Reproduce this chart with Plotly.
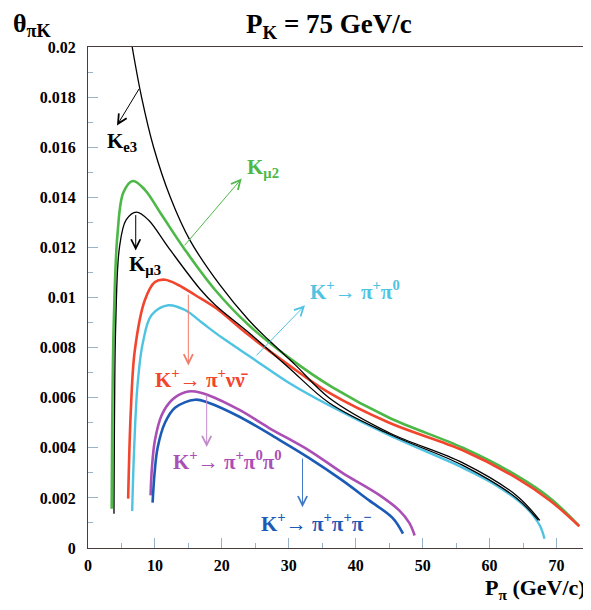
import plotly.graph_objects as go

# ---------------- data ----------------
ke3_x = [6.6, 8.0, 9.8, 12.3, 15.2, 19.7, 24.0, 27.0, 31.0, 36.0, 45.0, 56.0, 64.0, 67.5]
ke3_y = [0.0200, 0.0180, 0.0160, 0.0140, 0.0123, 0.0105, 0.0091, 0.0083, 0.0073, 0.0060, 0.0046, 0.0034, 0.0021, 0.0011]

kmu2_x = [3.54, 3.62, 3.85, 4.4, 5.3, 6.7, 8.5, 11.0, 14.5, 19.0, 24.0, 30.0, 36.6, 45.0, 56.0, 64.0, 69.0, 73.3]
kmu2_y = [0.00157, 0.0050, 0.0090, 0.0125, 0.0142, 0.01465, 0.0143, 0.0133, 0.0119, 0.0103, 0.0089, 0.0076, 0.0064, 0.0052, 0.0040, 0.0029, 0.0020, 0.0009]

kmu3_x = [3.88, 3.95, 4.15, 4.7, 5.7, 7.26, 9.0, 12.0, 16.7, 19.0, 24.0, 30.0, 36.0, 45.0, 56.0, 64.0, 67.3]
kmu3_y = [0.00137, 0.0050, 0.0090, 0.0120, 0.0131, 0.01341, 0.0131, 0.0120, 0.01035, 0.0097, 0.0086, 0.0072, 0.0058, 0.00455, 0.0033, 0.0020, 0.0011]

pnn_x = [6.0, 6.4, 7.0, 8.5, 10.0, 11.5, 13.5, 16.0, 19.0, 24.0, 30.0, 36.0, 45.0, 56.0, 64.0, 69.0, 73.4]
pnn_y = [0.00197, 0.0055, 0.0079, 0.0099, 0.01062, 0.01071, 0.0105, 0.0101, 0.0096, 0.0085, 0.0073, 0.0062, 0.0050, 0.0039, 0.0028, 0.0019, 0.00087]

pp0_x = [6.6, 6.9, 7.4, 8.2, 9.5, 12.0, 14.5, 17.0, 20.0, 25.0, 30.0, 36.0, 45.0, 56.0, 61.0, 65.5, 67.5, 68.2]
pp0_y = [0.00148, 0.0040, 0.0065, 0.0082, 0.0093, 0.00969, 0.0095, 0.0090, 0.0084, 0.0075, 0.0066, 0.0057, 0.0045, 0.0032, 0.0025, 0.0016, 0.0009, 0.00037]

p00_x = [9.35, 9.55, 10.0, 11.0, 12.5, 14.5, 16.0, 18.0, 22.7, 27.0, 33.0, 38.0, 43.6, 46.5, 48.0, 48.8]
p00_y = [0.0021, 0.0032, 0.0043, 0.0053, 0.0059, 0.00622, 0.00625, 0.0061, 0.0055, 0.0048, 0.0039, 0.0030, 0.0021, 0.0015, 0.0010, 0.0005]

ppm_x = [9.65, 9.95, 10.4, 11.5, 13.0, 16.0, 18.0, 22.7, 28.7, 33.0, 38.0, 42.0, 45.5, 47.06]
ppm_y = [0.00181, 0.0030, 0.0040, 0.0050, 0.0056, 0.00592, 0.0058, 0.00523, 0.0043, 0.0036, 0.0027, 0.0019, 0.0012, 0.00057]

x_tick_vals = [0, 10, 20, 30, 40, 50, 60, 70]
x_tick_text = ["0", "10", "20", "30", "40", "50", "60", "70"]
y_tick_vals = [0, 0.002, 0.004, 0.006, 0.008, 0.01, 0.012, 0.014, 0.016, 0.018, 0.02]
y_tick_text = ["0", "0.002", "0.004", "0.006", "0.008", "0.01", "0.012", "0.014", "0.016", "0.018", "0.02"]

# ---------------- styling ----------------
GREEN = "#4db848"
BLACK = "#000000"
RED = "#f2452d"
CYAN = "#4fc3e2"
MAGENTA = "#aa4fb5"
BLUE = "#1c5bb5"
SERIF = "Liberation Serif, Times New Roman, serif"

series = [
    (kmu2_x, kmu2_y, GREEN, 2.6),
    (pnn_x, pnn_y, RED, 2.6),
    (pp0_x, pp0_y, CYAN, 2.4),
    (p00_x, p00_y, MAGENTA, 2.6),
    (ppm_x, ppm_y, BLUE, 2.6),
    (ke3_x, ke3_y, BLACK, 1.3),
    (kmu3_x, kmu3_y, BLACK, 1.3),
]

fig = go.Figure()
for xs, ys, col, w in series:
    fig.add_trace(go.Scatter(x=xs, y=ys, mode="lines",
                             line=dict(color=col, width=w, shape="spline", smoothing=1.0),
                             showlegend=False, hoverinfo="skip"))

# arrows: (tail_x, tail_y, tip_x, tip_y, colour)
arrows = [
    (7.77, 0.01839, 4.33, 0.01687, BLACK),
    (14.24, 0.01202, 22.96, 0.01475, GREEN),
    (7.13, 0.01335, 7.13, 0.01188, BLACK),
    (14.99, 0.01017, 14.99, 0.00729, "#f47a68"),
    (24.95, 0.00763, 32.42, 0.00969, CYAN),
    (17.73, 0.00616, 17.73, 0.00403, "#c28acb"),
    (32.05, 0.00363, 32.05, 0.00163, "#3f78c8"),
]
for tx, ty, hx, hy, col in arrows:
    fig.add_annotation(x=hx, y=hy, ax=tx, ay=ty, xref="x", yref="y", axref="x", ayref="y",
                       text="", showarrow=True, arrowhead=5, arrowsize=1.8, arrowwidth=1,
                       arrowcolor=col)

labels = [
    (5.08, 0.01619, "K<sub>e3</sub>", BLACK),
    (26.15, 0.01516, "K<sub>μ2</sub>", GREEN),
    (8.52, 0.01128, "K<sub>μ3</sub>", BLACK),
    (17.03, 0.00678, "K<sup>+</sup>→ π<sup>+</sup>νν\u0304", RED),
    (39.9, 0.01029, "K<sup>+</sup>→ π<sup>+</sup>π<sup>0</sup>", CYAN),
    (20.77, 0.00350, "K<sup>+</sup>→ π<sup>+</sup>π<sup>0</sup>π<sup>0</sup>", MAGENTA),
    (34.07, 0.00103, "K<sup>+</sup>→ π<sup>+</sup>π<sup>+</sup>π<sup>−</sup>", BLUE),
]
for lx, ly, txt, col in labels:
    fig.add_annotation(x=lx, y=ly, xref="x", yref="y", text="<b>" + txt + "</b>",
                       showarrow=False, font=dict(family=SERIF, size=21, color=col),
                       xanchor="center", yanchor="middle")

# The page body adds an 8px offset, so the figure is made 8px smaller.
OFF = 8
PL, PR, PT, PB = 88.0, 588.0, 47.0, 548.0   # plot area in window pixels
def px2paper(px, py):
    return (px - PL) / (PR - PL), (PB - py) / (PB - PT)

tx_, ty_ = px2paper(329, 26)
fig.add_annotation(x=tx_, y=ty_, xref="paper", yref="paper",
                   text="<b>P<sub>K</sub> = 75 GeV/c</b>", showarrow=False,
                   font=dict(family=SERIF, size=27, color="black"),
                   xanchor="center", yanchor="middle")
tx_, ty_ = px2paper(11, 25)
fig.add_annotation(x=tx_, y=ty_, xref="paper", yref="paper",
                   text="<b>θ<sub>πK</sub></b>", showarrow=False,
                   font=dict(family=SERIF, size=26, color="black"),
                   xanchor="left", yanchor="middle")
tx_, ty_ = px2paper(588, 589)
fig.add_annotation(x=tx_, y=ty_, xref="paper", yref="paper",
                   text="<b>P<sub>π</sub> (GeV/c)</b>", showarrow=False,
                   font=dict(family=SERIF, size=22, color="black"),
                   xanchor="right", yanchor="middle")

axis_common = dict(
    showgrid=False, zeroline=False, showline=True, linecolor="#4a3d3a", linewidth=1.2,
    mirror=True, ticks="inside", tickcolor="#98b3c8", ticklen=10, tickwidth=1,
    minor=dict(ticks="inside", ticklen=5, tickcolor="#98b3c8", nticks=5),
    tickfont=dict(family=SERIF, size=16, color="black"), automargin=False,
)

fig.update_xaxes(range=[0, 74.7], tickvals=x_tick_vals, ticktext=["<b>" + t + "</b>" for t in x_tick_text],
                 ticklabelstandoff=3, **axis_common)
fig.update_yaxes(range=[0, 0.02], tickvals=y_tick_vals, ticktext=["<b>" + t + "</b>" for t in y_tick_text],
                 ticklabelstandoff=8, **axis_common)

W, H = 591 - OFF, 610 - 2 * OFF
fig.update_layout(
    width=W, height=H,
    margin=dict(l=PL - OFF, r=W - (PR - OFF), t=PT - OFF, b=H - (PB - OFF)),
    paper_bgcolor="white", plot_bgcolor="white",
)

fig.write_html("out.html")
